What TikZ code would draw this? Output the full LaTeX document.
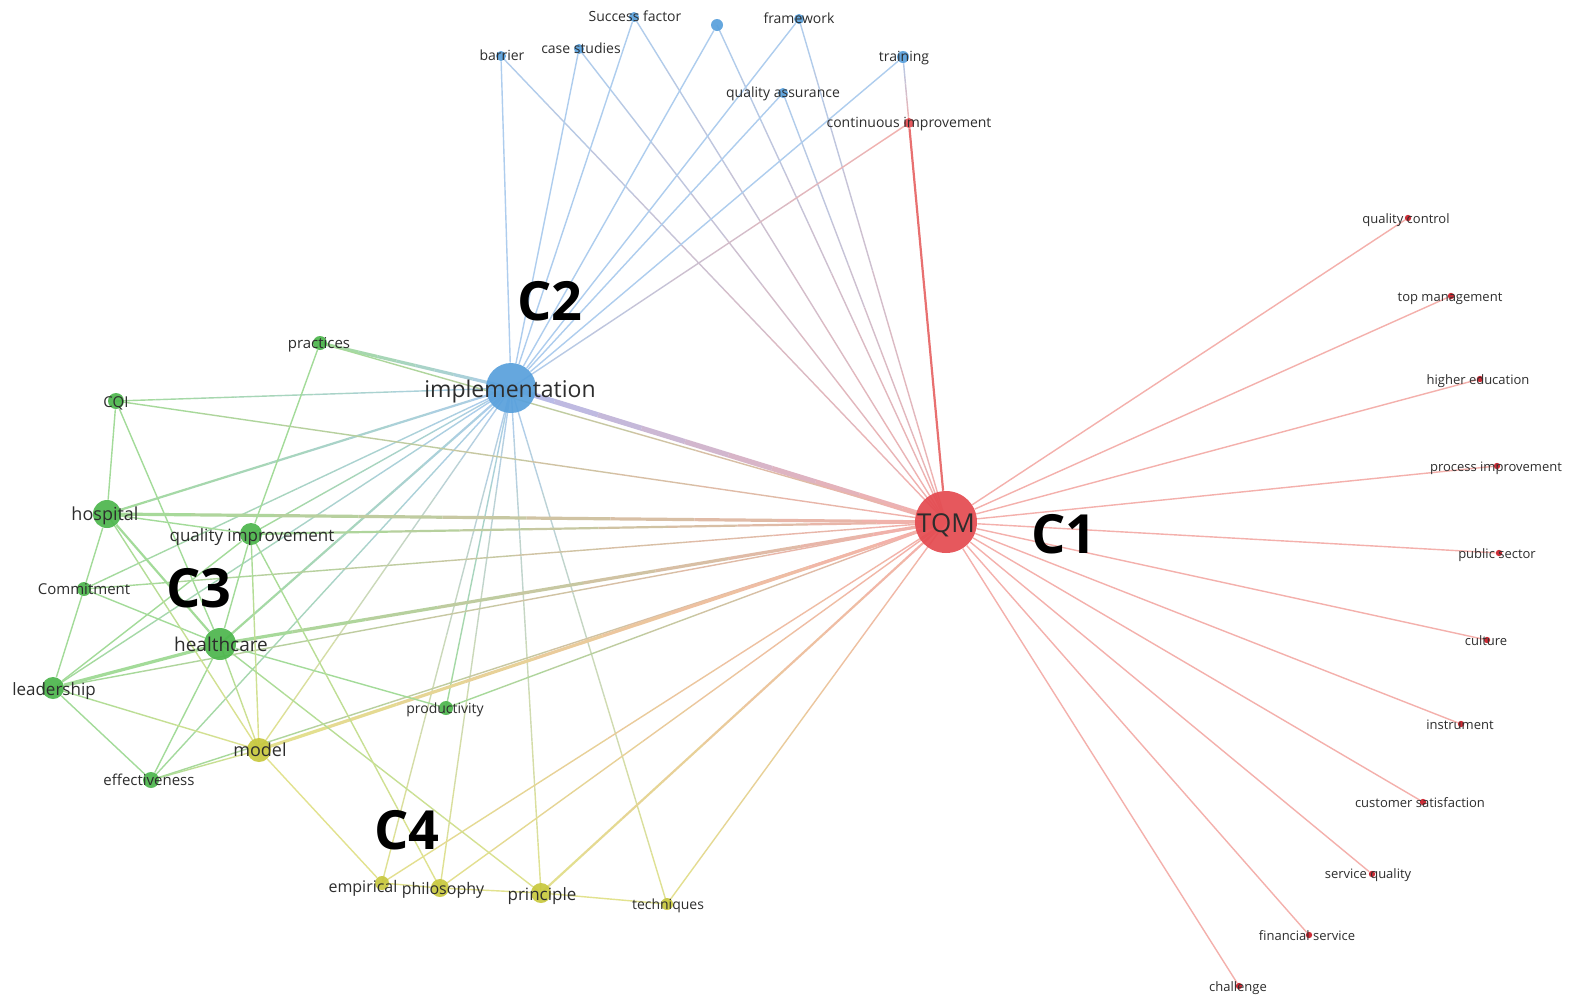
\documentclass[tikz,border=0pt]{standalone}
\usepackage{fontspec}
\setmainfont{Open Sans}
\usetikzlibrary{calc}
\pgfdeclarelayer{paper}
\pgfdeclarelayer{bg}
\pgfsetlayers{paper,bg,main}
\definecolor{nR}{RGB}{228,74,80}
\definecolor{nRs}{RGB}{205,45,55}
\definecolor{nB}{RGB}{88,160,220}
\definecolor{nG}{RGB}{76,182,76}
\definecolor{nY}{RGB}{200,200,62}
\definecolor{txt}{RGB}{45,45,45}
% light edge colours per cluster
\definecolor{cR}{RGB}{244,176,172}
\definecolor{cRd}{RGB}{232,112,112}
\definecolor{cB}{RGB}{174,205,238}
\definecolor{cBt}{RGB}{182,188,234}
\definecolor{cG}{RGB}{163,219,153}
\definecolor{cY}{RGB}{226,226,142}
\tikzset{
  kw/.style={circle,inner sep=0pt,draw=none,minimum size=#1},
  rk/.style={kw=#1,fill=nR,fill opacity=0.92},
  rs/.style={kw=3.2pt,fill=nRs},
  bk/.style={kw=#1,fill=nB,fill opacity=0.92},
  gk/.style={kw=#1,fill=nG,fill opacity=0.92},
  yk/.style={kw=#1,fill=nY,fill opacity=0.92},
  lb/.style={text=txt,inner sep=0pt,anchor=base,yshift={-0.42*#1pt},font=\fontsize{#1}{#1}\selectfont},
  cl/.style={text=black,inner sep=0pt,font=\fontsize{27}{27}\selectfont\bfseries},
  w1/.style={line width=0.7pt},
  w2/.style={line width=1.1pt},
  w3/.style={line width=1.6pt},
  w4/.style={line width=2.6pt},
}
% gradient connector between two named nodes: [width]{from}{to}{colour at from}{colour at to}
\newcommand\glink[5][w1]{%
  \foreach \k in {0,...,9}{%
    \pgfmathsetmacro\pa{\k/10}%
    \pgfmathsetmacro\pb{(\k+1)/10}%
    \pgfmathtruncatemacro\pc{(\k+0.5)*10}%
    \draw[#1,draw=#5!\pc!#4] ($(#2.center)!\pa!(#3.center)$) -- ($(#2.center)!\pb!(#3.center)$);
  }%
}
\begin{document}
\begin{tikzpicture}[x=0.5pt,y=-0.5pt]
\begin{pgfonlayer}{paper}
\fill[white] (0,0) rectangle (1569,997);
\end{pgfonlayer}
\useasboundingbox (0,0) rectangle (1569,997);
% ---- nodes (circles)
\node[rk=31pt] (tqm) at (946,522) {};
\node[bk=25pt] (impl) at (511,388) {};
\node[gk=16pt] (hc) at (220,644) {};
\node[gk=14pt] (hosp) at (107,514) {};
\node[gk=11pt] (qi) at (251,534) {};
\node[gk=7pt] (prac) at (320,343) {};
\node[gk=8pt] (cqi) at (116,401) {};
\node[gk=7pt] (comm) at (84,589) {};
\node[gk=11pt] (lead) at (53,688) {};
\node[gk=8pt] (eff) at (151,780) {};
\node[yk=12pt] (model) at (259,750) {};
\node[gk=7pt] (prod) at (446,708) {};
\node[yk=7pt] (emp) at (382,883) {};
\node[yk=9pt] (phil) at (440,888) {};
\node[yk=10pt] (prin) at (541,893) {};
\node[yk=6pt] (tech) at (667,904) {};
\node[bk=5pt] (barr) at (501,56) {};
\node[bk=5pt] (case) at (579,49) {};
\node[bk=5pt] (succ) at (634,17) {};
\node[bk=6pt] (unl) at (717,25) {};
\node[bk=5pt] (frame) at (799,19) {};
\node[bk=6pt] (train) at (903,57) {};
\node[bk=5pt] (qa) at (783,93) {};
\node[rk=5pt] (ci) at (909,123) {};
\node[rs] (qc) at (1408,218) {};
\node[rs] (tm) at (1451,296) {};
\node[rs] (he) at (1480,379) {};
\node[rs] (pi) at (1497,466) {};
\node[rs] (ps) at (1499,553) {};
\node[rs] (cu) at (1487,640) {};
\node[rs] (ins) at (1461,724) {};
\node[rs] (cs) at (1423,802) {};
\node[rs] (sq) at (1372,874) {};
\node[rs] (fs) at (1309,935) {};
\node[rs] (ch) at (1239,986) {};
% ---- edges
\begin{pgfonlayer}{bg}
\foreach \t in {qc,tm,he,pi,ps,cu,ins,cs,sq,fs,ch} {\draw[cR,w1] (tqm) -- (\t);}
\draw[cRd,w2] (tqm) -- (ci);
\foreach \t in {barr,case,succ,unl,frame,qa} {\glink{\t}{tqm}{cB}{cR}}
\glink[w4]{impl}{tqm}{cBt}{cR}
\foreach \t in {barr,case,succ,unl,frame,train,qa} {\draw[cB,w1] (impl) -- (\t);}
\glink{impl}{ci}{cB}{cR}
\glink{train}{ci}{cB}{cR}
% implementation -- C3 / C4
\glink[w3]{impl}{prac}{cB}{cG}
\glink{impl}{cqi}{cB}{cG}
\glink[w2]{impl}{hosp}{cB}{cG}
\glink{impl}{qi}{cB}{cG}
\glink{impl}{comm}{cB}{cG}
\glink[w2]{impl}{hc}{cB}{cG}
\glink{impl}{lead}{cB}{cG}
\glink{impl}{eff}{cB}{cG}
\glink{impl}{prod}{cB}{cG}
\glink{impl}{model}{cB}{cY}
\glink{impl}{emp}{cB}{cY}
\glink{impl}{phil}{cB}{cY}
\glink{impl}{prin}{cB}{cY}
\glink{impl}{tech}{cB}{cY}
% TQM -- C3 / C4
\glink{prac}{tqm}{cG}{cR}
\glink{cqi}{tqm}{cG}{cR}
\glink[w3]{hosp}{tqm}{cG}{cR}
\glink[w2]{qi}{tqm}{cG}{cR}
\glink{comm}{tqm}{cG}{cR}
\glink[w3]{hc}{tqm}{cG}{cR}
\glink{lead}{tqm}{cG}{cR}
\glink{prod}{tqm}{cG}{cR}
\glink{eff}{tqm}{cG}{cR}
\glink[w3]{model}{tqm}{cY}{cR}
\glink{emp}{tqm}{cY}{cR}
\glink{phil}{tqm}{cY}{cR}
\glink[w2]{prin}{tqm}{cY}{cR}
\glink{tech}{tqm}{cY}{cR}
% inside C3
\draw[cG,w1] (cqi) -- (hosp);
\draw[cG,w1] (cqi) -- (hc);
\draw[cG,w1] (hosp) -- (qi);
\draw[cG,w1] (hosp) -- (comm);
\draw[cG,w2] (hosp) -- (hc);
\draw[cG,w1] (comm) -- (lead);
\draw[cG,w1] (comm) -- (hc);
\draw[cG,w3] (lead) -- (hc);
\draw[cG,w1] (lead) -- (qi);
\draw[cG,w1] (lead) -- (eff);
\draw[cG,w1] (eff) -- (hc);
\draw[cG,w1] (hc) -- (qi);
\draw[cG,w1] (hc) -- (prod);
\draw[cG,w1] (prac) -- (qi);
% C3 -- C4
\glink{hosp}{model}{cG}{cY}
\glink{lead}{model}{cG}{cY}
\glink{eff}{model}{cG}{cY}
\glink{qi}{model}{cG}{cY}
\glink{hc}{model}{cG}{cY}
\glink{hc}{prin}{cG}{cY}
\glink{qi}{phil}{cG}{cY}
% inside C4
\draw[cY,w1] (model) -- (emp);
\draw[cY,w1] (phil) -- (prin);
\draw[cY,w1] (prin) -- (tech);
\draw[cY,w1] (emp) -- (phil);
\end{pgfonlayer}
% ---- labels
\node[lb=13] (l-tqm) at (946,522) {TQM};
\node[lb=11.5] (l-impl) at (510,388) {implementation};
\node[lb=9.5] (l-hc) at (221,644) {healthcare};
\node[lb=9] (l-hosp) at (105,513) {hospital};
\node[lb=8.5] (l-qi) at (252,534) {quality improvement};
\node[lb=7.5] (l-prac) at (319,342) {practices};
\node[lb=7.5] (l-cqi) at (116,401) {CQI};
\node[lb=7.5] (l-comm) at (84,588) {Commitment};
\node[lb=8.5] (l-lead) at (54,688) {leadership};
\node[lb=7.5] (l-eff) at (149,779) {effectiveness};
\node[lb=9] (l-model) at (260,749) {model};
\node[lb=7] (l-prod) at (445,708) {productivity};
\node[lb=8] (l-emp) at (363,886) {empirical};
\node[lb=8] (l-phil) at (443,888) {philosophy};
\node[lb=8.5] (l-prin) at (542,893) {principle};
\node[lb=7] (l-tech) at (668,904) {techniques};
\node[lb=7] (l-barr) at (502,55) {barrier};
\node[lb=7] (l-case) at (581,48) {case studies};
\node[lb=7] (l-succ) at (635,16) {Success factor};
\node[lb=7] (l-frame) at (799,18) {framework};
\node[lb=7] (l-train) at (904,56) {training};
\node[lb=7] (l-qa) at (783,92) {quality assurance};
\node[lb=7] (l-ci) at (909,122) {continuous improvement};
\node[lb=6.5] (l-qc) at (1406,218) {quality control};
\node[lb=6.5] (l-tm) at (1450,296) {top management};
\node[lb=6.5] (l-he) at (1478,379) {higher education};
\node[lb=6.5] (l-pi) at (1496,466) {process improvement};
\node[lb=6.5] (l-ps) at (1497,553) {public sector};
\node[lb=6.5] (l-cu) at (1486,640) {culture};
\node[lb=6.5] (l-ins) at (1460,724) {instrument};
\node[lb=6.5] (l-cs) at (1420,802) {customer satisfaction};
\node[lb=6.5] (l-sq) at (1368,873) {service quality};
\node[lb=6.5] (l-fs) at (1307,935) {financial service};
\node[lb=6.5] (l-ch) at (1238,986) {challenge};
\node[cl] (c1) at (1064,534) {C1};
\node[cl] (c2) at (550,301) {C2};
\node[cl] (c3) at (199,588) {C3};
\node[cl] (c4) at (407,830) {C4};
\end{tikzpicture}
\end{document}
